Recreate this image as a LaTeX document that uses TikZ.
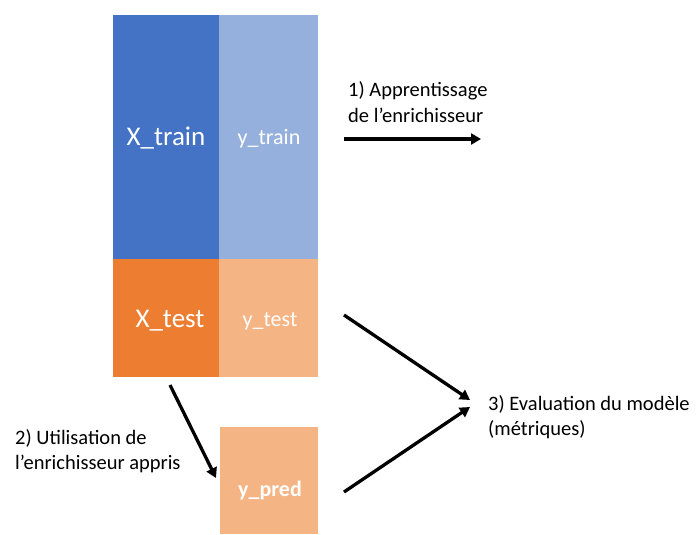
\documentclass[tikz,border=0pt]{standalone}
\usepackage{fontspec}
\setmainfont{Carlito}
\usetikzlibrary{arrows.meta}
\definecolor{xtrain}{HTML}{4472C4}
\definecolor{ytrain}{HTML}{95B0DC}
\definecolor{xtest}{HTML}{ED7D31}
\definecolor{ytest}{HTML}{F4B483}
\tikzset{
  blk/.style={draw=none, inner sep=0pt, text=white, anchor=north west},
  lbl/.style={inner sep=0pt, anchor=base west, font=\fontsize{20.5}{25}\selectfont, align=left},
  arr/.style={line width=3.3pt, -{Triangle[length=10pt,width=11pt]}},
}
\begin{document}
\begin{tikzpicture}[x=1pt,y=-1pt]
\useasboundingbox (0,0) rectangle (697,535);
% boxes
\node[blk, fill=xtrain, minimum width=106pt, minimum height=244pt] (xtr) at (113,15) {};
\node[blk, fill=ytrain, minimum width=99pt, minimum height=244pt] (ytr) at (219,15) {};
\node[blk, fill=xtest, minimum width=106pt, minimum height=118pt] (xte) at (113,259) {};
\node[blk, fill=ytest, minimum width=99pt, minimum height=118pt] (yte) at (219,259) {};
\node[blk, fill=ytest, minimum width=98pt, minimum height=107pt] (ypr) at (220,427) {};
% box texts
\node[text=white, font=\fontsize{27}{30}\selectfont] (txtr) at (166,138) {X\_train};
\node[text=white, font=\fontsize{22}{26}\selectfont] (tytr) at (269,139) {y\_train};
\node[text=white, font=\fontsize{27}{30}\selectfont] (txte) at (170,321) {X\_test};
\node[text=white, font=\fontsize{22}{26}\selectfont] (tyte) at (270,321) {y\_test};
\node[text=white, font=\bfseries\fontsize{22}{26}\selectfont] (typr) at (270,491) {y\_pred};
% labels
\node[lbl] (l1a) at (348,97) {1) Apprentissage};
\node[lbl] (l1b) at (348,122) {de l’enrichisseur};
\node[lbl] (l2a) at (15,444) {2) Utilisation de};
\node[lbl] (l2b) at (15,469) {l’enrichisseur appris};
\node[lbl] (l3a) at (488,410) {3) Evaluation du modèle};
\node[lbl] (l3b) at (488,435) {(métriques)};
% arrow ends
\coordinate (a1s) at (344,139);
\coordinate (a1e) at (481,139);
\coordinate (a2s) at (170,385);
\coordinate (a2e) at (216,478);
\coordinate (a3s) at (344,315);
\coordinate (a3e) at (470,400);
\coordinate (a4s) at (344,492);
\coordinate (a4e) at (470,407);
\draw[arr] (a1s) -- (a1e);
\draw[arr] (a2s) -- (a2e);
\draw[arr] (a3s) -- (a3e);
\draw[arr] (a4s) -- (a4e);
\end{tikzpicture}
\end{document}
